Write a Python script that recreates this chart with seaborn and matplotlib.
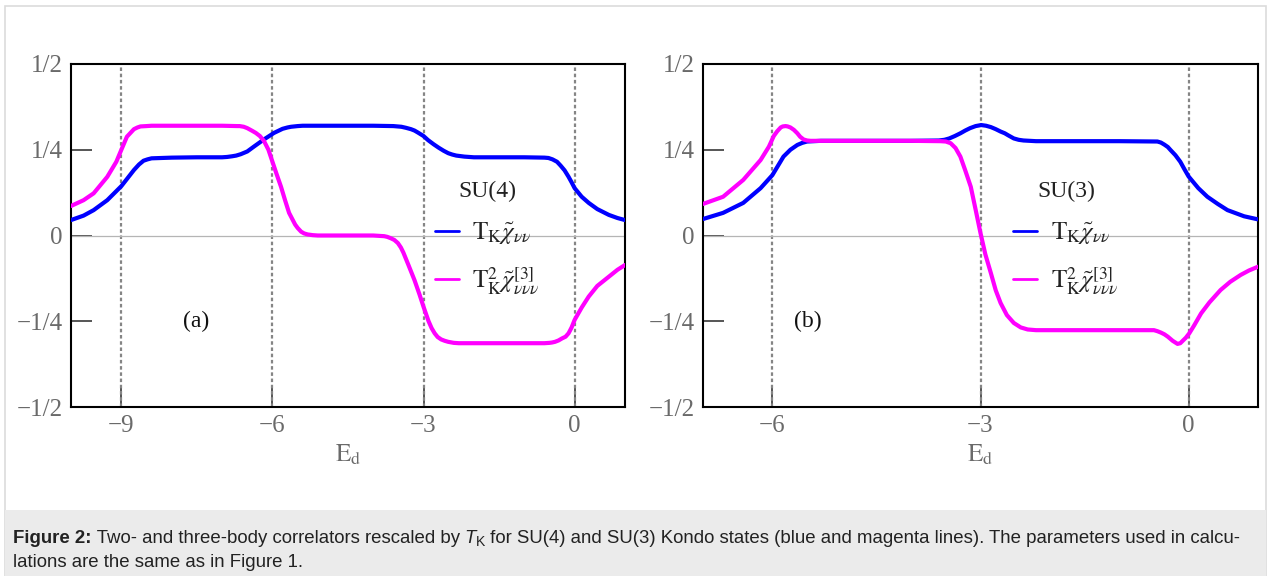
import numpy as np
import pandas as pd
import matplotlib
matplotlib.use("Agg")
import matplotlib.pyplot as plt
from matplotlib.patches import Rectangle
import seaborn as sns

# ---------------- data ----------------
# Panel (a): SU(4)
a_blue_x = [-10.0, -9.75, -9.55, -9.28, -9.0, -8.75, -8.65, -8.56, -8.48, -8.4, -8.0, -7.5, -7.0, -6.9,
            -6.8, -6.72, -6.63, -6.5, -6.37, -6.17, -5.97, -5.8, -5.7, -5.63, -5.5, -5.4, -5.0, -4.0,
            -3.6, -3.52, -3.44, -3.35, -3.25, -3.18, -3.11, -3.0, -2.91, -2.8, -2.7, -2.6, -2.51, -2.43,
            -2.35, -2.19, -2.0, -1.0, -0.6, -0.52, -0.44, -0.35, -0.28, -0.2, -0.12, -0.06, 0.0, 0.14,
            0.28, 0.45, 0.68, 0.85, 1.0]
a_blue_y = [0.045, 0.058, 0.074, 0.103, 0.144, 0.191, 0.207, 0.218, 0.222, 0.225, 0.227, 0.228, 0.228, 0.229,
            0.231, 0.233, 0.237, 0.245, 0.259, 0.280, 0.299, 0.311, 0.315, 0.317, 0.319, 0.320, 0.320, 0.320,
            0.319, 0.318, 0.317, 0.314, 0.310, 0.306, 0.300, 0.290, 0.278, 0.266, 0.256, 0.247, 0.240, 0.236,
            0.233, 0.230, 0.228, 0.228, 0.227, 0.226, 0.222, 0.215, 0.204, 0.190, 0.171, 0.155, 0.138, 0.113,
            0.095, 0.077, 0.060, 0.051, 0.045]

a_mag_x = [-10.0, -9.75, -9.55, -9.28, -9.1, -9.0, -8.89, -8.75, -8.68, -8.62, -8.5, -8.4, -7.0, -6.7,
           -6.65, -6.57, -6.5, -6.4, -6.33, -6.25, -6.17, -6.08, -6.0, -5.92, -5.83, -5.75, -5.67, -5.55,
           -5.5, -5.43, -5.37, -5.3, -5.2, -5.1, -4.0, -3.78, -3.72, -3.65, -3.58, -3.51, -3.45, -3.4,
           -3.35, -3.3, -3.24, -3.18, -3.08, -3.0, -2.9, -2.84, -2.78, -2.72, -2.65, -2.58, -2.51, -2.4,
           -2.3, -0.6, -0.5, -0.45, -0.39, -0.32, -0.25, -0.18, -0.12, -0.06, 0.0, 0.14, 0.28, 0.45,
           0.68, 0.85, 1.0]
a_mag_y = [0.086, 0.103, 0.123, 0.171, 0.215, 0.250, 0.288, 0.310, 0.315, 0.318, 0.319, 0.320, 0.320, 0.319,
           0.319, 0.317, 0.313, 0.305, 0.299, 0.290, 0.276, 0.250, 0.215, 0.180, 0.142, 0.103, 0.066, 0.032,
           0.022, 0.011, 0.006, 0.003, 0.001, 0.0, 0.0, -0.002, -0.004, -0.008, -0.013, -0.022, -0.035, -0.050,
           -0.068, -0.086, -0.108, -0.130, -0.172, -0.208, -0.250, -0.270, -0.285, -0.296, -0.303, -0.307, -0.310, -0.313,
           -0.314, -0.314, -0.313, -0.312, -0.310, -0.306, -0.300, -0.295, -0.285, -0.268, -0.246, -0.210, -0.178, -0.147,
           -0.120, -0.100, -0.086]

# Panel (b): SU(3)
b_blue_x = [-7.0, -6.71, -6.42, -6.17, -6.0, -5.84, -5.74, -5.64, -5.57, -5.5, -5.3, -4.0, -3.6, -3.52,
            -3.45, -3.37, -3.29, -3.22, -3.15, -3.07, -2.99, -2.92, -2.85, -2.78, -2.71, -2.65, -2.6, -2.52,
            -2.45, -2.38, -2.2, -1.0, -0.45, -0.4, -0.35, -0.3, -0.26, -0.19, -0.12, -0.06, 0.0, 0.14,
            0.27, 0.42, 0.56, 0.8, 1.0]
b_blue_y = [0.048, 0.066, 0.095, 0.138, 0.176, 0.230, 0.250, 0.264, 0.270, 0.274, 0.276, 0.276, 0.277, 0.279,
            0.283, 0.290, 0.298, 0.306, 0.313, 0.319, 0.322, 0.320, 0.316, 0.310, 0.303, 0.298, 0.292, 0.283,
            0.279, 0.277, 0.275, 0.275, 0.274, 0.271, 0.265, 0.258, 0.249, 0.234, 0.215, 0.193, 0.172, 0.138,
            0.113, 0.092, 0.074, 0.056, 0.047]

b_mag_x = [-7.0, -6.71, -6.42, -6.17, -6.05, -5.98, -5.93, -5.88, -5.85, -5.81, -5.78, -5.74, -5.69, -5.64,
           -5.6, -5.55, -5.5, -5.45, -5.3, -4.0, -3.58, -3.5, -3.43, -3.36, -3.29, -3.22, -3.14, -3.07,
           -3.0, -2.93, -2.85, -2.78, -2.71, -2.62, -2.52, -2.42, -2.32, -2.2, -2.1, -0.5, -0.45, -0.4,
           -0.35, -0.3, -0.23, -0.16, -0.12, -0.08, -0.04, 0.01, 0.08, 0.18, 0.3, 0.46, 0.6, 0.75,
           0.87, 1.0]
b_mag_y = [0.092, 0.113, 0.162, 0.220, 0.259, 0.290, 0.304, 0.315, 0.318, 0.319, 0.318, 0.315, 0.308, 0.298,
           0.288, 0.280, 0.277, 0.276, 0.276, 0.276, 0.275, 0.274, 0.269, 0.255, 0.230, 0.190, 0.142, 0.075,
           0.007, -0.055, -0.110, -0.160, -0.197, -0.232, -0.255, -0.268, -0.274, -0.276, -0.276, -0.276, -0.279, -0.283,
           -0.288, -0.295, -0.307, -0.316, -0.314, -0.306, -0.298, -0.285, -0.262, -0.227, -0.195, -0.159, -0.135, -0.115,
           -0.102, -0.091]

y_ticks = [-0.5, -0.25, 0.0, 0.25, 0.5]
y_ticklabels = ["\u22121/2", "\u22121/4", "0", "1/4", "1/2"]
a_xticks = [-9, -6, -3, 0]
b_xticks = [-6, -3, 0]
a_xlim = (-10, 1)
b_xlim = (-7, 1)
label_blue = r"$\mathrm{T}_{\mathrm{K}}\tilde{\chi}_{\nu\nu}$"
label_mag = r"$\mathrm{T}_{\mathrm{K}}^{2}\tilde{\chi}^{[3]}_{\nu\nu\nu}$"

# ---------------- style ----------------
sns.set_theme(style="white")
plt.rcParams["font.family"] = ["Liberation Serif", "DejaVu Serif"]
plt.rcParams["mathtext.fontset"] = "stix"

W, H = 1272, 576
fig = plt.figure(figsize=(W / 100, H / 100), dpi=100)
fig.patch.set_facecolor("white")

# outer light frame and caption band
fig.patches.append(Rectangle((5 / W, 0), (1266 - 5) / W, (H - 6) / H, transform=fig.transFigure,
                             facecolor="none", edgecolor="#dcdcdc", lw=1.2, zorder=0))
fig.patches.append(Rectangle((5 / W, 0), (1266 - 5) / W, (576 - 510) / H, transform=fig.transFigure,
                             facecolor="#ebebeb", edgecolor="none", zorder=0))


def make_panel(rect, bx, by, mx, my, xlim, xticks, tag, title, tag_x, leg_x):
    ax = fig.add_axes(rect)
    for xv in xticks:
        ax.axvline(xv, color="#858585", lw=1.6, ls=(0, (1.6, 1.2)), zorder=1)
    ax.axhline(0, color="#b5b5b5", lw=0.9, zorder=1)
    df_b = pd.DataFrame({"x": bx, "y": by})
    df_m = pd.DataFrame({"x": mx, "y": my})
    sns.lineplot(data=df_b, x="x", y="y", ax=ax, color="#0000ff", lw=3.0, label=label_blue, zorder=3,
                 solid_joinstyle="round", solid_capstyle="round")
    sns.lineplot(data=df_m, x="x", y="y", ax=ax, color="#ff00ff", lw=3.0, label=label_mag, zorder=4,
                 solid_joinstyle="round", solid_capstyle="round")
    ax.set_xlim(*xlim)
    ax.set_ylim(-0.5, 0.5)
    ax.set_yticks(y_ticks)
    ax.set_yticklabels(y_ticklabels)
    ax.set_xticks(xticks)
    ax.set_xticklabels(["\u2212%d" % abs(v) if v < 0 else "%d" % v for v in xticks])
    ax.tick_params(axis="both", direction="in", length=15, width=1.4, color="#555555",
                   labelcolor="#6a6a6a", labelsize=18, pad=6, left=True, bottom=True,
                   top=False, right=False)
    for s in ax.spines.values():
        s.set_color("black")
        s.set_linewidth(1.5)
    ax.set_xlabel(r"$\mathrm{E}_{\mathrm{d}}$", color="#6a6a6a", fontsize=18, labelpad=4)
    ax.set_ylabel("")
    ax.text(tag_x, 0.248, tag, transform=ax.transAxes, fontsize=17, color="#111111",
            ha="center", va="center")
    leg = ax.legend(title=title, loc="upper left", bbox_to_anchor=(leg_x, 0.66), frameon=False,
                    fontsize=18, title_fontsize=17, handlelength=0.95, handletextpad=0.55,
                    labelspacing=0.75, borderpad=0, borderaxespad=0)
    for ln in leg.get_lines():
        ln.set_linewidth(2.0)
    for t in leg.get_texts():
        t.set_color("#222222")
    leg.get_title().set_color("#222222")
    return ax


make_panel([71 / W, (576 - 407) / H, 554 / W, 343 / H], a_blue_x, a_blue_y, a_mag_x, a_mag_y,
           a_xlim, a_xticks, "(a)", "SU(4)", 0.2256, 0.657)
make_panel([703 / W, (576 - 407) / H, 555 / W, 343 / H], b_blue_x, b_blue_y, b_mag_x, b_mag_y,
           b_xlim, b_xticks, "(b)", "SU(3)", 0.189, 0.559)

# ---------------- caption ----------------
renderer = fig.canvas.get_renderer()
cap_fs = 13.4
cap_color = "#222222"


def text_width(s, **kw):
    t1 = fig.text(0, 0, "|" + s + "|", **kw)
    t2 = fig.text(0, 0, "||", **kw)
    w = t1.get_window_extent(renderer).width - t2.get_window_extent(renderer).width
    t1.remove()
    t2.remove()
    return w


def chain(parts, x0, y_base):
    x = x0
    for s, kw, dy in parts:
        kw = dict(kw)
        kw.setdefault("family", ["Liberation Sans", "DejaVu Sans"])
        kw.setdefault("fontsize", cap_fs)
        kw.setdefault("color", cap_color)
        fig.text(x / W, 1 - (y_base + dy) / H, s, va="baseline", ha="left", **kw)
        x += text_width(s, **kw)


chain([("Figure 2:", {"weight": "bold"}, 0),
       (" Two- and three-body correlators rescaled by ", {}, 0),
       ("T", {"style": "italic"}, 0),
       ("K", {"fontsize": cap_fs * 0.75}, 3),
       (" for SU(4) and SU(3) Kondo states (blue and magenta lines). The parameters used in calcu-", {}, 0)],
      13, 543)
chain([("lations are the same as in Figure 1.", {}, 0)], 13, 567)

fig.savefig("out.png", dpi=100)
